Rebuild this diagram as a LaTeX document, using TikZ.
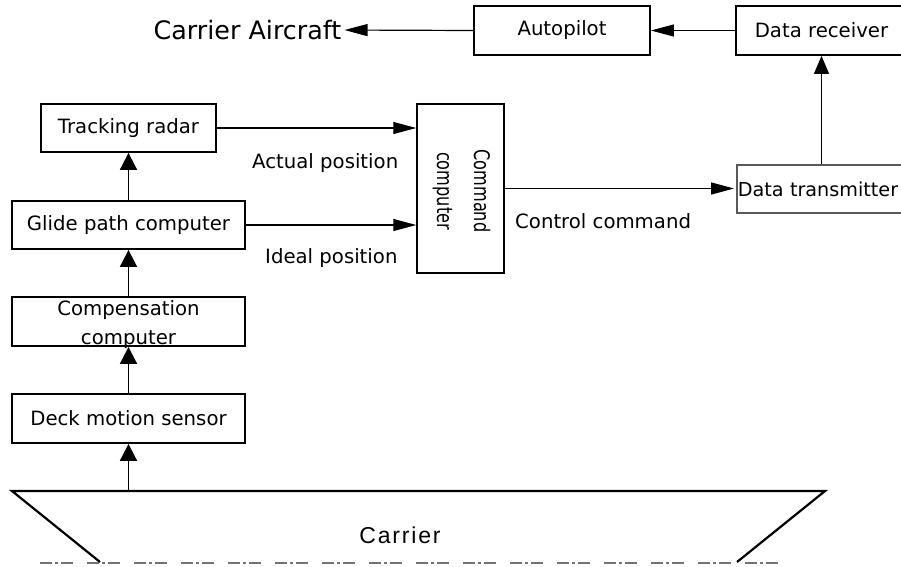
\documentclass[tikz,border=0pt]{standalone}
\usepackage{fontspec}
\setmainfont{DejaVu Sans}
\newfontfamily\carrierfont{Liberation Sans}[LetterSpace=8]
\newfontfamily\rotfont{DejaVu Sans}[FakeStretch=0.75]
\usetikzlibrary{arrows.meta}
\begin{document}
\begin{tikzpicture}[x=1pt,y=-1pt,
  box/.style={draw=black,line width=1.8pt,inner sep=0pt,font=\fontsize{19.7}{24}\selectfont},
  lab/.style={inner sep=0pt,font=\fontsize{19.7}{24}\selectfont},
  conn/.style={line width=1.2pt,-{Triangle[length=23pt,width=12pt]}},
  vconn/.style={line width=1.8pt,-{Triangle[length=17pt,width=17pt]}},
  vthin/.style={line width=1.2pt,-{Triangle[length=18pt,width=15pt]}}]
\useasboundingbox (0,0) rectangle (901,566);
% top row
\node[box,minimum width=176pt,minimum height=49pt] (auto) at (562,30.5) {Autopilot};
\node[box,minimum width=171pt,minimum height=49pt] (recv) at (821.5,30.5) {Data receiver};
\node[lab,font=\fontsize{25.4}{30}\selectfont] (air) at (247.5,30) {Carrier Aircraft};
% right middle
\node[box,draw=black!65,line width=1.5pt,anchor=west,minimum height=48pt,text width=187pt,align=left,inner xsep=1pt,font=\fontsize{19.2}{24}\selectfont] (trans) at (736,189) {Data transmitter};
% left column
\node[box,minimum width=175pt,minimum height=48pt] (track) at (128.5,128) {Tracking radar};
\node[box,minimum width=233pt,minimum height=48pt] (glide) at (128.5,225) {Glide path computer};
\node[box,minimum width=233pt,minimum height=49pt,font=\fontsize{19.7}{29}\selectfont] (comp) at (128.5,321.5) {\raisebox{-8pt}[0pt][0pt]{\parbox{230pt}{\centering Compensation\\computer}}};
\node[box,minimum width=233pt,minimum height=49pt] (deck) at (128.5,418.5) {Deck motion sensor};
% command computer
\node[draw=black,line width=1.5pt,minimum width=87pt,minimum height=169pt,inner sep=0pt] (cmd) at (460.5,188.5) {};
\node[lab,rotate=-90,align=center,font=\rotfont\fontsize{21.5}{37}\selectfont] (cmdtext) at (461.5,191) {Command\\computer};
% labels
\node[lab,anchor=west] (actual) at (252,163) {Actual position};
\node[lab,anchor=west] (ideal) at (265,258) {Ideal position};
\node[lab,anchor=west] (ctrl) at (515,221) {Control command};
% carrier
\draw[line width=2.2pt,line join=miter] (100,562) -- (12,491) -- (825,491) -- (737,562);
\coordinate (ctop) at (128.5,491);
\node[inner sep=0pt,font=\carrierfont\fontsize{23}{28}\selectfont,anchor=base] (carrier) at (400,543) {Carrier};
\draw[black!55,line width=1.3pt,dash pattern=on 12pt off 3pt on 3pt off 3pt on 12pt off 14pt] (40,563) -- (782,563);
% connectors
\draw[conn,shorten >=3pt] (auto.west) -- (air.east);
\draw[conn] (recv.west) -- (auto.east);
\draw[conn] (track.east) -- (track.east -| cmd.west);
\draw[conn] (glide.east) -- (glide.east -| cmd.west);
\draw[conn,shorten >=2pt] (cmd.east) -- (cmd.east -| trans.west);
\draw[vthin] (trans.north -| recv.south) -- (recv.south);
\draw[vconn] (glide.north) -- (track.south);
\draw[vconn] (comp.north) -- (glide.south);
\draw[vconn] (deck.north) -- (comp.south);
\draw[vconn] (ctop) -- (deck.south);
\end{tikzpicture}
\end{document}
